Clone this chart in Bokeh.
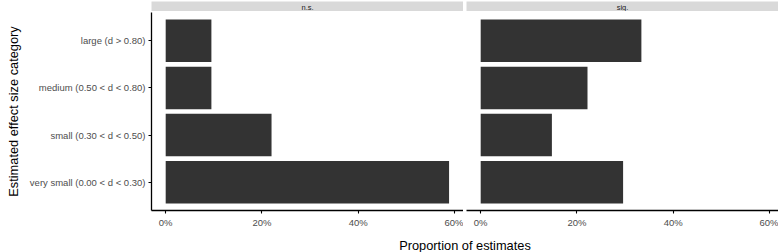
from bokeh.plotting import figure
from bokeh.layouts import column, row
from bokeh.models import Range1d, FixedTicker, ColumnDataSource
from bokeh.core.properties import value
from bokeh.embed import file_html
from bokeh.resources import INLINE

# ---- data ----
categories = ["very small (0.00 < d < 0.30)", "small (0.30 < d < 0.50)",
              "medium (0.50 < d < 0.80)", "large (d > 0.80)"]
panels = ["n.s.", "sig."]
ns_values = [0.589, 0.22, 0.095, 0.095]
sig_values = [0.296, 0.148, 0.222, 0.334]
x_ticks = [0.0, 0.2, 0.4, 0.6]
x_tick_labels = ["0%", "20%", "40%", "60%"]
x_title = "Proportion of estimates"
y_title = "Estimated effect size category"

FONT = "Liberation Sans"
cat_pos = [float(i + 1) for i in range(len(categories))]
x_lo, x_hi = -0.0295, 0.619
FRAME_W = 312
TICK_FS = "9.5px"
TITLE_FS = "12.8px"


def make_panel(vals, left_border, with_yaxis):
    p = figure(width=left_border + FRAME_W, height=219,
               x_range=Range1d(x_lo, x_hi), y_range=Range1d(0.4, 4.6),
               output_backend="svg", toolbar_location=None,
               min_border_left=left_border, min_border_right=0,
               min_border_top=1, min_border_bottom=20,
               y_axis_location="left" if with_yaxis else None,
               outline_line_color=None)
    src = ColumnDataSource(dict(y=cat_pos, v=vals))
    p.hbar(y="y", left=0, right="v", height=0.9, source=src,
           fill_color="#333333", line_color=None)
    p.xgrid.visible = False
    p.ygrid.visible = False
    ax = p.xaxis[0]
    ax.ticker = FixedTicker(ticks=x_ticks)
    ax.major_label_overrides = dict(zip(x_ticks, x_tick_labels))
    ax.minor_tick_line_color = None
    ax.major_tick_in = 0
    ax.major_tick_out = 3
    ax.major_label_standoff = 3
    ax.major_label_text_font = FONT
    ax.major_label_text_font_size = TICK_FS
    ax.major_label_text_color = "#4D4D4D"
    ax.axis_line_width = 1.3
    ax.major_tick_line_width = 1.1
    if with_yaxis:
        ay = p.yaxis[0]
        ay.ticker = FixedTicker(ticks=cat_pos)
        ay.major_label_overrides = dict(zip(cat_pos, categories))
        ay.minor_tick_line_color = None
        ay.major_tick_in = 0
        ay.major_tick_out = 3
        ay.major_label_standoff = 3
        ay.major_label_text_font = FONT
        ay.major_label_text_font_size = TICK_FS
        ay.major_label_text_color = "#4D4D4D"
        ay.axis_line_width = 1.3
        ay.major_tick_line_width = 1.1
        ay.axis_label = y_title
        ay.axis_label_text_font = FONT
        ay.axis_label_text_font_size = TITLE_FS
        ay.axis_label_text_font_style = "normal"
        ay.axis_label_text_color = "black"
        ay.axis_label_standoff = 6
    return p


def make_strip(name, left_border):
    s = figure(width=left_border + FRAME_W, height=11,
               x_range=Range1d(0, 1), y_range=Range1d(0, 1),
               output_backend="svg", toolbar_location=None,
               min_border_left=left_border, min_border_right=0,
               min_border_top=0, min_border_bottom=0,
               x_axis_location=None, y_axis_location=None,
               outline_line_color=None, background_fill_color="#D9D9D9")
    s.xgrid.visible = False
    s.ygrid.visible = False
    s.text(x=[0.5], y=[0.5], text=[name], text_font=value(FONT),
           text_font_size="7.5px", text_color="#1A1A1A",
           text_align="center", text_baseline="middle")
    return s


s1 = make_strip(panels[0], 151)
s2 = make_strip(panels[1], 3)
p1 = make_panel(ns_values, 151, True)
p2 = make_panel(sig_values, 3, False)

t = figure(width=778, height=22, x_range=Range1d(0, 1), y_range=Range1d(0, 1),
           output_backend="svg", toolbar_location=None,
           min_border_left=151, min_border_right=0,
           min_border_top=0, min_border_bottom=0,
           x_axis_location=None, y_axis_location=None, outline_line_color=None)
t.xgrid.visible = False
t.ygrid.visible = False
t.text(x=[0.5], y=[0.3], text=[x_title], text_font=value(FONT),
       text_font_size=TITLE_FS, text_color="black",
       text_align="center", text_baseline="middle")

layout = column(row(s1, s2), row(p1, p2), t)
open("out.html", "w").write(file_html(layout, INLINE))
